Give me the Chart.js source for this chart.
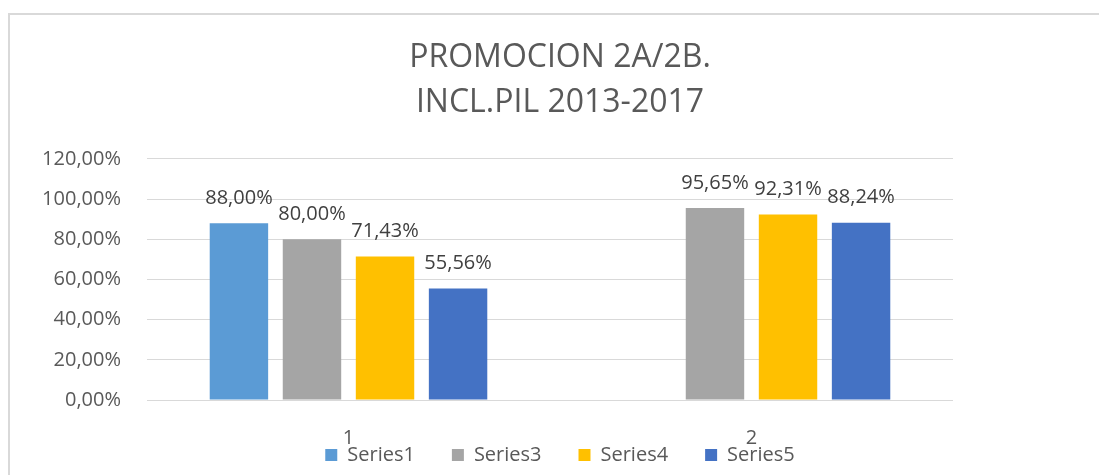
<!DOCTYPE html>
<html lang="es">
<head>
  <meta charset="UTF-8" />
  <title>PROMOCION 2A/2B.</title>
  <script src="https://cdn.jsdelivr.net/npm/chart.js"></script>
  <style>
    html, body {
      margin: 0;
      background: #fff;
      overflow: hidden;
      width: 1099px;
      height: 475px;
    }
    .frame {
      position: absolute;
      left: 8px;
      top: 13px;
      width: 1300px;
      height: 700px;
      border: 2px solid #d9d9d9;
    }
    canvas {
      position: absolute;
      left: 0;
      top: 0;
    }
  </style>
</head>
<body>
  <div class="frame"></div>
  <canvas id="promoChart" width="1099" height="475"></canvas>

  <script>
    const categories = ['1', '2'];
    const series1 = [88.00, null];
    const series3 = [80.00, 95.65];
    const series4 = [71.43, 92.31];
    const series5 = [55.56, 88.24];
    const yTicks = [0, 20, 40, 60, 80, 100, 120];

    const fmt = v => v.toFixed(2).replace('.', ',') + '%';

    // value labels above each bar
    const barLabels = {
      id: 'barLabels',
      afterDatasetsDraw(chart) {
        const ctx = chart.ctx;
        ctx.save();
        ctx.font = '20px "Open Sans"';
        ctx.fillStyle = '#404040';
        ctx.textAlign = 'center';
        ctx.textBaseline = 'middle';
        chart.data.datasets.forEach((ds, i) => {
          const meta = chart.getDatasetMeta(i);
          meta.data.forEach((bar, j) => {
            if (ds.data[j] == null) return;
            ctx.fillText(fmt(ds.data[j]), bar.x, bar.y - 25);
          });
        });
        ctx.restore();
      }
    };

    const ctx = document.getElementById('promoChart').getContext('2d');
    new Chart(ctx, {
      type: 'bar',
      data: {
        labels: categories,
        datasets: [
          { label: 'Series1', data: series1, backgroundColor: '#5B9BD5' },
          { label: 'Series3', data: series3, backgroundColor: '#A5A5A5' },
          { label: 'Series4', data: series4, backgroundColor: '#FFC000' },
          { label: 'Series5', data: series5, backgroundColor: '#4472C4' }
        ]
      },
      options: {
        responsive: false,
        animation: false,
        categoryPercentage: 0.725,
        barPercentage: 0.8,
        layout: { padding: { left: 21, right: 0, top: 0, bottom: 0 } },
        scales: {
          x: {
            grid: { display: false, drawTicks: false },
            border: { display: false },
            // mirrored so the labels are not clipped; they sit on the legend like the original
            ticks: { color: '#595959', font: { family: 'Open Sans', size: 20 }, mirror: true, padding: -50.5 },
            afterFit(s) { s.height = 8; }
          },
          y: {
            min: 0,
            max: 120,
            afterBuildTicks(s) { s.ticks = yTicks.map(v => ({ value: v })); },
            grid: { color: '#d9d9d9', drawTicks: false },
            border: { display: false },
            ticks: {
              color: '#595959',
              font: { family: 'Open Sans', size: 20 },
              padding: 26,
              callback: v => fmt(v)
            },
            afterFit(s) { s.width = 126; }
          },
          yRight: {
            type: 'linear',
            position: 'right',
            grid: { display: false },
            border: { display: false },
            ticks: { display: false },
            afterFit(s) { s.width = 146; }
          }
        },
        plugins: {
          title: {
            display: true,
            text: ['PROMOCION 2A/2B.', 'INCL.PIL 2013-2017'],
            color: '#595959',
            font: { family: 'Open Sans', size: 32, weight: 'normal', lineHeight: 1.406 },
            padding: { top: 35, bottom: 34 }
          },
          legend: {
            position: 'bottom',
            labels: {
              color: '#595959',
              font: { family: 'Open Sans', size: 20 },
              boxWidth: 12,
              boxHeight: 12,
              padding: 37
            }
          },
          tooltip: { enabled: false }
        }
      },
      plugins: [barLabels]
    });
  </script>
</body>
</html>
